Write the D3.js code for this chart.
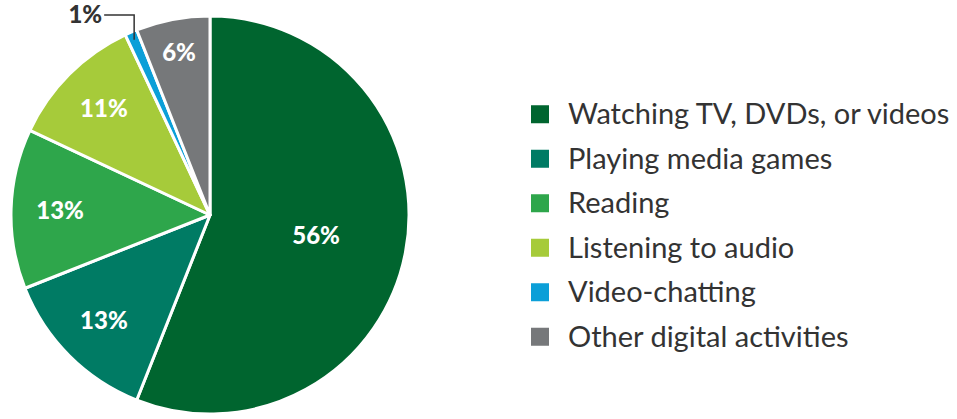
<!DOCTYPE html>
<html>
<head>
<meta charset="utf-8">
<script src="https://cdn.jsdelivr.net/npm/d3@7"></script>
<style>
  body { margin: 0; background: #fff; }
  text { font-family: Lato, "Open Sans", sans-serif; }
</style>
</head>
<body>
<svg id="chart" width="957" height="419"></svg>
<script>
const categories = ["Watching TV, DVDs, or videos", "Playing media games", "Reading",
                    "Listening to audio", "Video-chatting", "Other digital activities"];
const values = [56, 13, 13, 11, 1, 6];
const colors = ["#00652f", "#007b64", "#2ea64b", "#a6cb3a", "#0b9fd8", "#76787a"];

const svg = d3.select("#chart");
const cx = 210, cy = 215, r = 199;

const pie = d3.pie().sort(null).value(d => d)(values);
const arc = d3.arc().innerRadius(0).outerRadius(r);

const g = svg.append("g").attr("transform", `translate(${cx},${cy})`);

g.selectAll("path")
  .data(pie)
  .enter().append("path")
  .attr("d", arc)
  .attr("fill", (d, i) => colors[i])
  .attr("stroke", "#fff")
  .attr("stroke-width", 3)
  .attr("stroke-linejoin", "round");

// label distance from centre, the big slice sits closer in
function labelR(d) {
  if (d.value > 50) return 108;
  if (d.value < 8) return 165;
  return 150;
}

g.selectAll("text.pct")
  .data(pie.filter(d => d.value > 2))
  .enter().append("text")
  .attr("class", "pct")
  .attr("x", d => Math.sin((d.startAngle + d.endAngle) / 2) * labelR(d))
  .attr("y", d => -Math.cos((d.startAngle + d.endAngle) / 2) * labelR(d))
  .attr("dy", "0.35em")
  .attr("text-anchor", "middle")
  .attr("fill", "#fff")
  .style("font-weight", "900")
  .style("font-size", "24px")
  .text(d => d.value + "%");

// the small slice gets an outside label with a leader line
const small = pie.filter(d => d.value <= 2)[0];
const ma = (small.startAngle + small.endAngle) / 2;
const px = Math.sin(ma) * (r - 8), py = -Math.cos(ma) * (r - 8);
g.append("path")
  .attr("d", `M${px},${py}V${-r - 1}H${px - 30}`)
  .attr("fill", "none")
  .attr("stroke", "#333")
  .attr("stroke-width", 1.5);
g.append("text")
  .attr("x", px - 32)
  .attr("y", -r - 1)
  .attr("dy", "0.35em")
  .attr("text-anchor", "end")
  .attr("fill", "#333")
  .style("font-weight", "900")
  .style("font-size", "24px")
  .text(small.value + "%");

// legend
const ly = d3.scaleBand().domain(categories).range([92, 359]);
const leg = svg.append("g").selectAll("g")
  .data(categories)
  .enter().append("g")
  .attr("transform", d => `translate(531,${ly(d) + ly.bandwidth() / 2})`);
leg.append("rect")
  .attr("x", 0).attr("y", -9)
  .attr("width", 18).attr("height", 18)
  .attr("fill", (d, i) => colors[i]);
leg.append("text")
  .attr("x", 37)
  .attr("dy", "0.35em")
  .attr("fill", "#333")
  .style("font-size", "29px")
  .text(d => d);
</script>
</body>
</html>
